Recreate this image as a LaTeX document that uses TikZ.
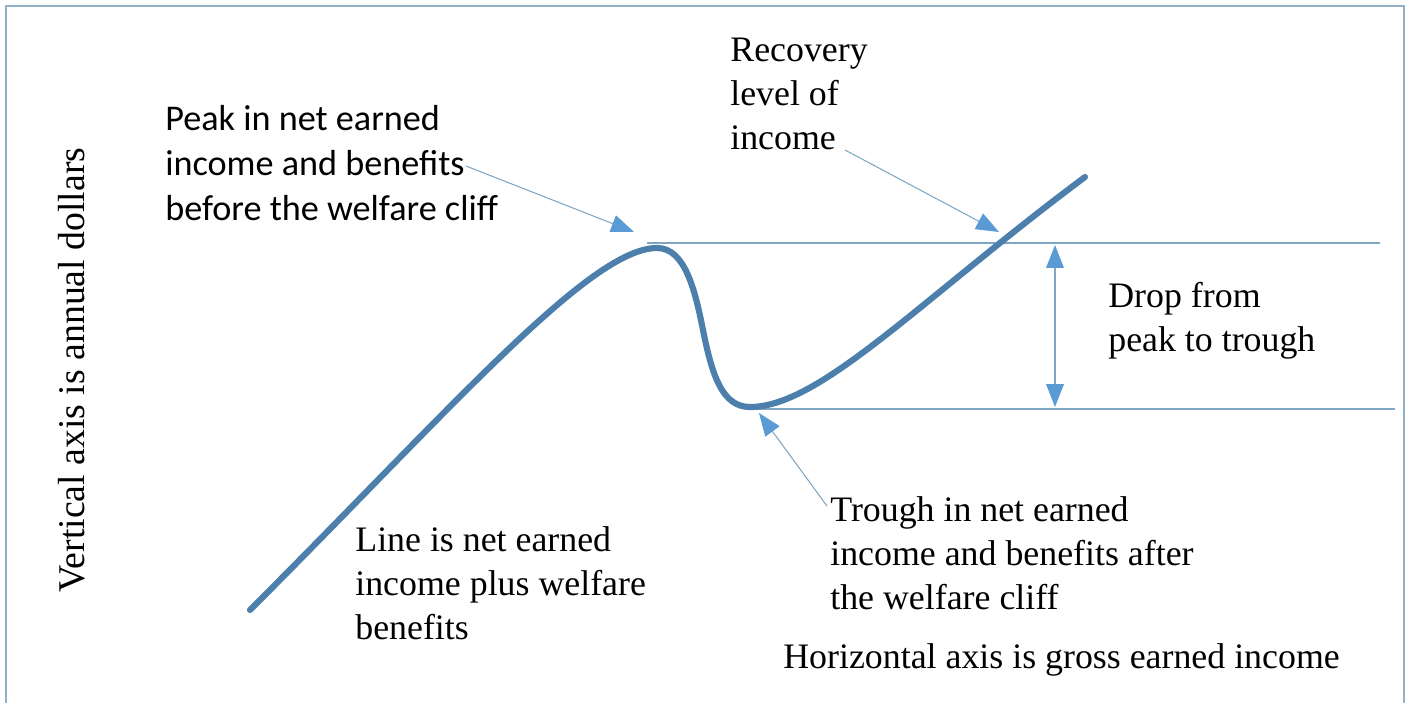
\documentclass[tikz,border=0pt]{standalone}
\usepackage{fontspec}
\setmainfont{Liberation Serif}
\newfontfamily\calib{Carlito}
\usepackage{xcolor}
\usetikzlibrary{positioning,calc,arrows.meta}

\definecolor{framecol}{HTML}{8FB2C9}
\definecolor{curvecol}{HTML}{4C7FAC}
\definecolor{guidecol}{HTML}{7FA6C2}
\definecolor{tipcol}{HTML}{5B9BD5}

\tikzset{
  lbl/.style={anchor=west, align=left, inner sep=0pt, font=\fontsize{20.4}{25}\selectfont},
  callout/.style={draw=guidecol, line width=0.6pt, -{Triangle[length=13pt,width=10pt,fill=tipcol,color=tipcol]}},
  guide/.style={draw=guidecol, line width=0.8pt}
}

\begin{document}
\begin{tikzpicture}[x=0.02cm,y=-0.02cm]
            \useasboundingbox (0,0) rectangle (1411,703);
            \draw[framecol, line width=1.6pt] (6,6) rectangle (1404,708);

            % level lines at peak and trough
            \coordinate (peakpt) at (657,248);
            \coordinate (troughpt) at (750,407);
            \draw[guide] (647,243) -- (1380,243);
            \draw[guide] (747,409) -- (1395,409);

            % the income curve
            \draw[curvecol, line width=3.5pt, line cap=round]
              (250,610) .. controls (450,410) and (590,248) .. (peakpt)
              .. controls (685,248) and (695,290) .. (703,330)
              .. controls (712,375) and (722,407) .. (troughpt)
              .. controls (820,407) and (920,300) .. (1085,177);

            % drop from peak to trough
            \coordinate (droptop) at (1055,245);
            \coordinate (dropbot) at (1055,407);
            \draw[guide, {Triangle[length=13pt,width=10pt,fill=tipcol,color=tipcol]}-{Triangle[length=13pt,width=10pt,fill=tipcol,color=tipcol]}] (droptop) -- (dropbot);

            \node[lbl, font=\calib\fontsize{20.6}{25.5}\selectfont] (peaklbl) at (165,163) {Peak in net earned\\income and benefits\\before the welfare cliff};
            \node[lbl] (recovlbl) at (730,94) {Recovery\\level of\\income};
            \node[lbl] (droplbl) at (1108,321) {Drop from\\peak to trough};
            \node[lbl] (linelbl) at (355,583) {Line is net earned\\income plus welfare\\benefits};
            \node[lbl] (troughlbl) at (830,553) {Trough in net earned\\income and benefits after\\the welfare cliff};
            \node[lbl] (haxis) at (783,660) {Horizontal axis is gross earned income};
            \node[lbl, anchor=center, rotate=90, font=\fontsize{21.5}{25}\selectfont] (vaxis) at (72,370) {Vertical axis is annual dollars};

            % callout arrows
            \coordinate (peaktail) at (466,166);
            \coordinate (peaktip) at (634,232);
            \coordinate (rectail) at (845,150);
            \coordinate (rectip) at (999,232);
            \coordinate (troughtail) at (827,506);
            \coordinate (troughtip) at (759,413);
            \draw[callout] (peaktail) -- (peaktip);
            \draw[callout] (rectail) -- (rectip);
            \draw[callout] (troughtail) -- (troughtip);
\end{tikzpicture}
\end{document}
